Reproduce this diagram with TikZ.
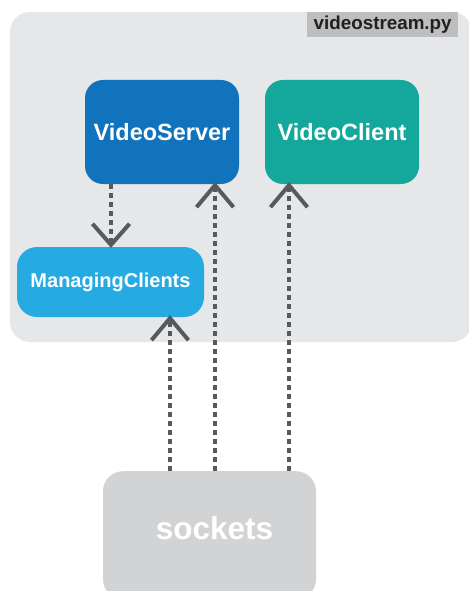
\documentclass[tikz,border=0pt]{standalone}
\usepackage{fontspec}
\setmainfont{Liberation Sans}
\definecolor{panelgray}{HTML}{E6E7E8}
\definecolor{tabgray}{HTML}{BCBEC0}
\definecolor{tabtext}{HTML}{231F20}
\definecolor{serverblue}{HTML}{1173BB}
\definecolor{clientteal}{HTML}{13A89B}
\definecolor{managerblue}{HTML}{25AAE1}
\definecolor{socketgray}{HTML}{D1D3D4}
\definecolor{linkgray}{HTML}{58595B}
\tikzset{
  box/.style={rounded corners=18pt, inner sep=0pt, text=white, font=\bfseries},
  link/.style={draw=linkgray, line width=4.7pt, dash pattern=on 4.7pt off 4.3pt, line cap=butt},
  chev/.style={draw=linkgray, line width=4pt, line join=miter, line cap=butt},
}
% open chevron heads pointing up or down at a given point
\newcommand\chevUp[1]{\draw[chev] (#1) ++(-18.5,22) -- (#1) -- ++(18.5,22);}
\newcommand\chevDown[1]{\draw[chev] (#1) ++(-18.5,-21) -- (#1) -- ++(18.5,-21);}
\begin{document}
\begin{tikzpicture}[x=1pt,y=-1pt]
\useasboundingbox (0,0) rectangle (469,591);
\clip (0,0) rectangle (469,591);

% module panel and its file tab
\fill[panelgray, rounded corners=20pt] (10,12) rectangle (472,342);
\node[fill=tabgray, minimum width=151pt, minimum height=25pt, inner sep=0pt,
      anchor=north west, text=tabtext, font=\bfseries\fontsize{18.8}{19}\selectfont]
      (tab) at (307,12) {videostream.py};

% classes
\node[box, fill=serverblue, minimum width=154pt, minimum height=104pt,
      font=\bfseries\fontsize{23.5}{24}\selectfont] (server) at (162,132) {VideoServer};
\node[box, fill=clientteal, minimum width=154pt, minimum height=104pt,
      font=\bfseries\fontsize{23.5}{24}\selectfont] (client) at (342,132) {VideoClient};
\node[box, fill=managerblue, minimum width=187pt, minimum height=70pt, rounded corners=20pt,
      font=\bfseries\fontsize{20}{21}\selectfont] (manager) at (110.5,282) {ManagingClients};

% socket layer
\node[box, fill=socketgray, minimum width=213pt, minimum height=128pt, rounded corners=20pt,
      anchor=north] (sockets) at (209.5,471) {};
\node[text=white, font=\bfseries\fontsize{31.5}{32}\selectfont, inner sep=0pt]
      (socketstext) at (214.5,528) {sockets};

% connector columns
\coordinate (c1) at (111,0);
\coordinate (c2) at (170,0);
\coordinate (c3) at (215,0);
\coordinate (c4) at (289,0);

% VideoServer -> ManagingClients
\coordinate (t1) at ([yshift=2pt]manager.north -| c1);
\draw[link] (server.south -| c1) -- (t1);
\chevDown{t1}

% sockets -> ManagingClients
\coordinate (t2) at ([yshift=-1pt]manager.south -| c2);
\draw[link] (sockets.north -| c2) -- (t2);
\chevUp{t2}

% sockets -> VideoServer
\coordinate (t3) at ([yshift=-1pt]server.south -| c3);
\draw[link] (sockets.north -| c3) -- (t3);
\chevUp{t3}

% sockets -> VideoClient
\coordinate (t4) at ([yshift=-1pt]client.south -| c4);
\draw[link] (sockets.north -| c4) -- (t4);
\chevUp{t4}
\end{tikzpicture}
\end{document}
